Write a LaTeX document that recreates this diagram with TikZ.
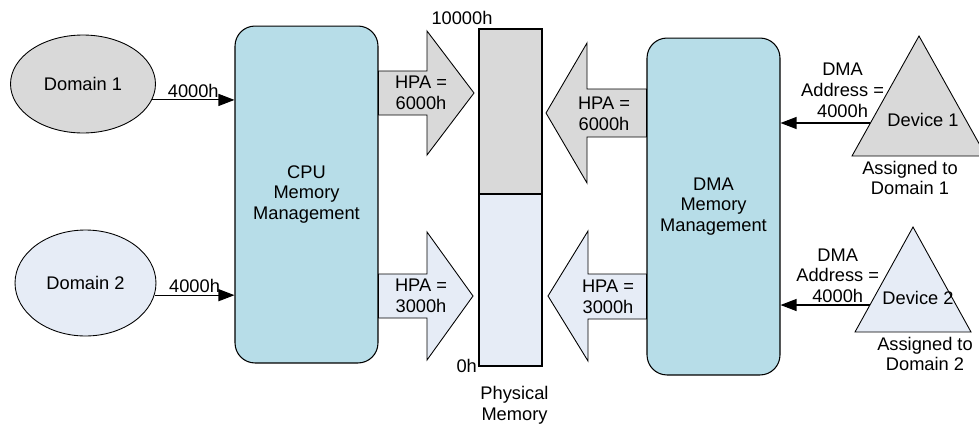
\documentclass[tikz,border=0pt]{standalone}
\usepackage{fontspec}
\setmainfont{Liberation Sans}
\usetikzlibrary{arrows.meta,positioning,calc,shapes.geometric}
\definecolor{mgmtblue}{HTML}{B7DDE8}
\definecolor{memgray}{HTML}{D9D9D9}
\definecolor{memblue}{HTML}{E6ECF6}
\tikzset{mgmt/.style={draw, rounded corners=0.4cm, fill=mgmtblue, align=center, inner sep=0, line width=0.6pt}}
\tikzset{dom/.style={draw, ellipse, inner sep=0, line width=0.5pt}}
\tikzset{arr/.style={draw, -{Triangle[length=0.32cm,width=0.24cm]}, line width=0.6pt}}
\tikzset{fat/.style={draw, line width=0.5pt}}
\tikzset{memblk/.style={draw, line width=1.5pt, outer sep=0, inner sep=0, minimum width=1.26cm}}
\tikzset{lbl/.style={align=center, inner sep=1pt}}

\begin{document}
\begin{tikzpicture}[x=0.02cm, y=-0.02cm, font=\fontsize{10.4}{11.8}\selectfont]
	\useasboundingbox (0,0) rectangle (979,426);
	
	\node[dom, fill=memgray, minimum width=2.9cm, minimum height=1.96cm] (dom1) at (83,84) {Domain 1};
	\node[dom, fill=memblue, minimum width=2.82cm, minimum height=2.12cm] (dom2) at (85.5,283) {Domain 2};
	
	\node[mgmt, minimum width=2.86cm, minimum height=6.74cm] (cpu) at (306.5,194.5) {CPU\\Memory\\Management};
	\node[mgmt, minimum width=2.66cm, minimum height=6.74cm] (dma) at (713.5,206.5) {DMA\\Memory\\Management};
	
	\draw[arr] (dom1.-13) -- (dom1.-13 -| cpu.west) node[midway, above, lbl]{4000h};
	\draw[arr] (dom2.-10) -- (dom2.-10 -| cpu.west) node[midway, above, lbl]{4000h};
	
	% physical memory
	\node[memblk, fill=memgray, minimum height=3.3cm] (memtop) at (510.5,111.5) {};
	\node[memblk, fill=memblue, minimum height=3.44cm, below=0pt of memtop] (membot) {};
	\node (topaddr) at (462,18) {10000h};
	\node[left=0pt of membot.south west, inner sep=1pt] (botaddr) {0h};
	\node[lbl, below=0.36cm of membot, xshift=0.08cm] (memname) {Physical\\Memory};
	
	% HPA arrows
	\draw[fat, fill=memgray] (cpu.east |- 0,71) -- (427,71) -- (427,31) -- (474,93) -- (427,155) -- (427,115) -- (cpu.east |- 0,115) -- cycle;
	\draw[fat, fill=memblue] (cpu.east |- 0,274) -- (427,274) -- (427,232) -- (473,296) -- (427,360) -- (427,318) -- (cpu.east |- 0,318) -- cycle;
	\draw[fat, fill=memgray] (dma.west |- 0,89) -- (587,89) -- (587,43) -- (546,113) -- (587,183) -- (587,137) -- (dma.west |- 0,137) -- cycle;
	\draw[fat, fill=memblue] (dma.west |- 0,274) -- (588,274) -- (588,231) -- (548,296) -- (588,361) -- (588,319) -- (dma.west |- 0,319) -- cycle;
	\node[lbl] (hpa1) at (421,93) {HPA =\\6000h};
	\node[lbl] (hpa2) at (421,296) {HPA =\\3000h};
	\node[lbl] (hpa3) at (604,114) {HPA =\\6000h};
	\node[lbl] (hpa4) at (608,297) {HPA =\\3000h};
	
	% devices
	\draw[fat, fill=memgray] (919,36) coordinate (dev1top) -- (986,156) -- (852,156) coordinate (dev1bl) -- cycle;
	\draw[fat, fill=memblue] (913,227) coordinate (dev2top) -- (971,332) -- (855,332) coordinate (dev2bl) -- cycle;
	\node (dev1) at (923,120) {Device 1};
	\node (dev2) at (918,298) {Device 2};
	\coordinate (dev1in) at ($(dev1top)!0.725!(dev1bl)$);
	\coordinate (dev2in) at ($(dev2top)!0.743!(dev2bl)$);
	\draw[arr] (dev1in) -- (dev1in -| dma.east) node[pos=0.31, above, lbl, yshift=2pt]{DMA\\Address =\\4000h};
	\draw[arr] (dev2in) -- (dev2in -| dma.east) node[pos=0.36, above, lbl]{DMA\\Address =\\4000h};
	\node[lbl] (asg1) at (910,178) {Assigned to\\Domain 1};
	\node[lbl] (asg2) at (925,354) {Assigned to\\Domain 2};
\end{tikzpicture}
\end{document}
